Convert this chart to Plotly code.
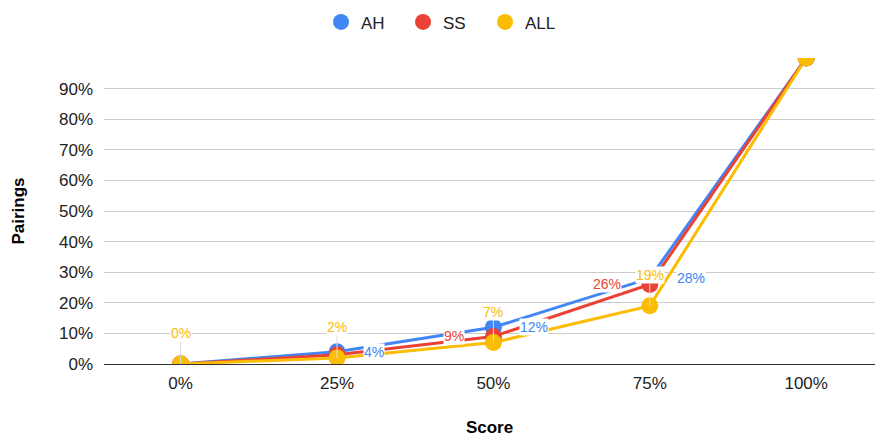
import plotly.graph_objects as go

# Score buckets on the x axis
scores = ["0%", "25%", "50%", "75%", "100%"]

# Share of pairings per score bucket
ah = [0.00, 0.04, 0.12, 0.28, 1.00]
ss = [0.00, 0.03, 0.09, 0.26, 1.00]
all_ = [0.00, 0.02, 0.07, 0.19, 1.00]

# Which points carry a value label (True = labelled)
ah_labelled = [False, True, True, True, False]
ss_labelled = [False, False, True, True, False]
all_labelled = [True, True, True, True, False]

y_ticks = [0.0, 0.1, 0.2, 0.3, 0.4, 0.5, 0.6, 0.7, 0.8, 0.9]

series = [
    ("AH", ah, ah_labelled, "#4285F4"),
    ("SS", ss, ss_labelled, "#EA4335"),
    ("ALL", all_, all_labelled, "#FBBC04"),
]

FONT = "Arial, Liberation Sans, sans-serif"

fig = go.Figure()

for name, vals, _, color in series:
    fig.add_trace(go.Scatter(
        x=scores, y=vals, mode="lines", name=name,
        line=dict(color=color, width=3),
        showlegend=False, hoverinfo="skip",
    ))
for name, vals, _, color in series:
    fig.add_trace(go.Scatter(
        x=scores, y=vals, mode="markers", name=name,
        marker=dict(color=color, size=17, line=dict(width=0)),
        cliponaxis=True,
    ))

annotations = []
for name, vals, labelled, color in series:
    for x, v, show in zip(scores, vals, labelled):
        if not show:
            continue
        a = dict(
            x=x, y=v, xref="x", yref="y",
            text=f"{round(v * 100):d}%",
            font=dict(family=FONT, size=14, color=color),
            bgcolor="white", borderpad=0,
        )
        if name == "ALL":
            a.update(showarrow=True, arrowhead=0, arrowwidth=1,
                     arrowcolor="#dddddd", ax=0, ay=-31, standoff=0)
        elif name == "AH":
            a.update(showarrow=False, xanchor="left", yanchor="middle", xshift=26)
        else:
            a.update(showarrow=False, xanchor="right", yanchor="middle", xshift=-28)
        annotations.append(a)

fig.update_layout(
    width=875, height=437,
    margin=dict(l=104, r=0, t=58, b=73),
    plot_bgcolor="white", paper_bgcolor="white",
    font=dict(family=FONT, size=17, color="#222222"),
    showlegend=True,
    legend=dict(
        orientation="h", x=0.441, xanchor="center",
        yref="container", y=0.99, yanchor="top",
        font=dict(family=FONT, size=17, color="#222222"),
        itemsizing="trace", entrywidth=37,
    ),
    annotations=annotations,
    xaxis=dict(
        type="category", categoryorder="array", categoryarray=scores,
        range=[-0.49, 4.44],
        showgrid=False, zeroline=False, showline=False,
        ticks="", tickfont=dict(size=17, color="#222222"),
        ticklabelstandoff=7,
        title=dict(text="<b>Score</b>", font=dict(size=17, color="#000000"), standoff=30),
        fixedrange=True,
    ),
    yaxis=dict(
        range=[0, 1], tickvals=y_ticks, tickformat=".0%",
        showgrid=True, gridcolor="#cccccc", gridwidth=1,
        zeroline=True, zerolinecolor="#333333", zerolinewidth=1,
        showline=False, ticks="",
        tickfont=dict(size=17, color="#222222"),
        ticklabelstandoff=10,
        title=dict(text="<b>Pairings</b>", font=dict(size=17, color="#000000"), standoff=30),
        fixedrange=True,
    ),
)

fig.write_html("out.html")
